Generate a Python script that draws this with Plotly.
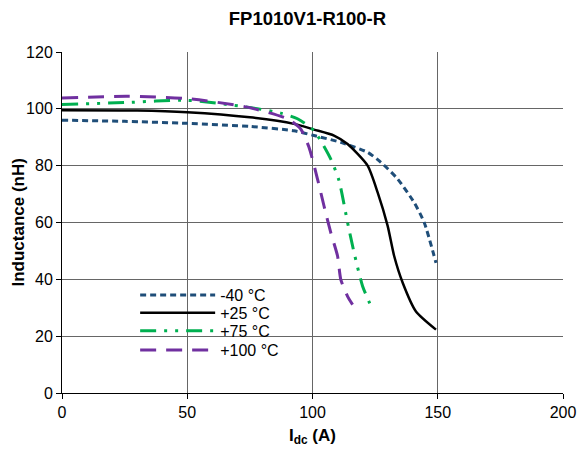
import plotly.graph_objects as go

title_text = "FP1010V1-R100-R"
x_title = "I<sub>dc</sub> (A)"
y_title = "Inductance (nH)"

names = ["-40 °C", "+25 °C", "+75 °C", "+100 °C"]

x_m40 = [0, 25, 50, 75, 92.6, 100.6, 111.3, 122, 127.3, 134, 140.6, 144.6, 149.3]
y_m40 = [96.0, 95.6, 94.9, 93.8, 92.3, 90.6, 88.2, 84.7, 81.2, 75.3, 67.0, 60.0, 45.8]

x_p25 = [0, 30, 50, 75, 92.6, 100.6, 108.6, 114, 122, 126, 130, 132.6, 136, 141.3, 149.3]
y_p25 = [99.5, 99.4, 98.8, 97.0, 94.7, 92.7, 90.6, 87.6, 80.0, 70.6, 58.8, 48.2, 38.8, 28.7, 22.3]

x_p75 = [0, 25, 50, 74, 87.3, 94, 100.6, 107.3, 110.6, 114, 116.6, 120, 124]
y_p75 = [101.5, 102.2, 103.0, 100.6, 98.5, 96.5, 92.3, 82.3, 74.7, 60.0, 49.4, 37.6, 29.3]

x_p100 = [0, 26, 50, 74, 90, 95.3, 98.6, 102, 104.6, 107.3, 110, 111.3, 114, 116]
y_p100 = [103.8, 104.4, 103.6, 100.6, 96.5, 92.9, 86.5, 75.3, 65.8, 56.4, 48.2, 39.9, 34.0, 31.1]

x_ticks = [0, 50, 100, 150, 200]
y_ticks = [0, 20, 40, 60, 80, 100, 120]

series = [
    (x_m40, y_m40, dict(color="#1F4E79", width=3, dash="6px,4px")),
    (x_p25, y_p25, dict(color="#000000", width=2.5, dash="solid")),
    (x_p75, y_p75, dict(color="#00B050", width=3, dash="16px,8px,3px,8px,3px,8px")),
    (x_p100, y_p100, dict(color="#7030A0", width=3, dash="16px,10px")),
]

legend_ids = ["legend", "legend2", "legend3", "legend4"]
legend_y = [0.287, 0.235, 0.182, 0.126]

font_family = "Liberation Sans, Arial, sans-serif"

fig = go.Figure()
for (xs, ys, ln), nm, lid in zip(series, names, legend_ids):
    fig.add_trace(go.Scatter(x=xs, y=ys, mode="lines", name=nm, legend=lid,
                             line=dict(shape="spline", smoothing=0.6, **ln)))

legend_layout = {}
for lid, ly in zip(legend_ids, legend_y):
    legend_layout[lid] = dict(x=0.146, y=ly, xanchor="left", yanchor="middle",
                              bgcolor="rgba(0,0,0,0)", font=dict(size=16, family=font_family),
                              itemwidth=75)

fig.update_layout(
    width=578, height=453,
    margin=dict(l=62, r=15, t=52, b=60),
    paper_bgcolor="white", plot_bgcolor="white",
    font=dict(family=font_family, size=16, color="#000"),
    title=dict(text="<b>" + title_text + "</b>", xref="paper", x=0.49, xanchor="center",
               y=0.96, yanchor="middle",
               font=dict(size=18.5, family=font_family, color="#000")),
    showlegend=True,
    xaxis=dict(range=[0, 200], tickvals=x_ticks, showgrid=True, gridcolor="#666666", gridwidth=1,
               showline=True, linecolor="#000", linewidth=1, ticks="outside", ticklen=5, tickcolor="#000",
               zeroline=False, automargin=False, tickfont=dict(size=16),
               title=dict(text="<b>" + x_title + "</b>", font=dict(size=17), standoff=8)),
    yaxis=dict(range=[0, 120], tickvals=y_ticks, showgrid=True, gridcolor="#666666", gridwidth=1,
               showline=True, linecolor="#000", linewidth=1, ticks="outside", ticklen=5, tickcolor="#000",
               zeroline=False, automargin=False, tickfont=dict(size=16)),
    annotations=[dict(text="<b>" + y_title + "</b>", xref="paper", yref="paper",
                      x=-0.0878, y=0.5, xanchor="center", yanchor="middle",
                      textangle=-90, showarrow=False, font=dict(size=17, family=font_family))],
    **legend_layout,
)

fig.write_html("out.html", config={"displayModeBar": False},
               post_script="document.body.style.margin='0';document.body.style.overflow='hidden';")
